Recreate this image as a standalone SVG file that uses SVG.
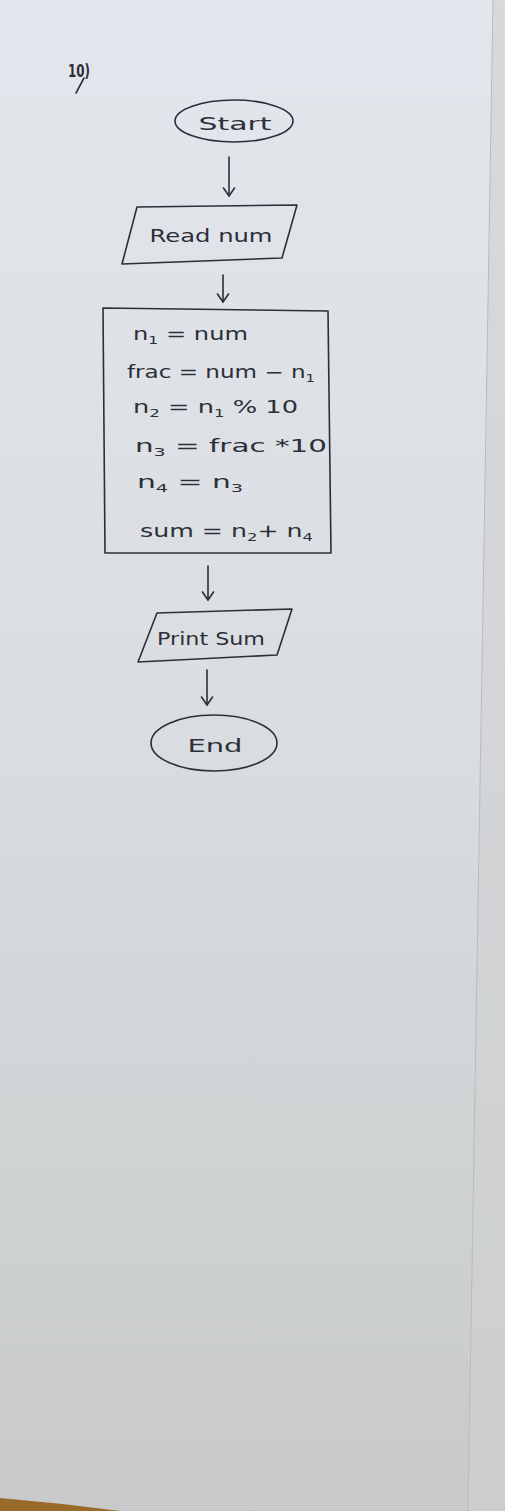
<svg xmlns="http://www.w3.org/2000/svg" width="505" height="1511" viewBox="0 0 505 1511">
<defs>
<linearGradient id="paper" x1="0" y1="0" x2="0" y2="1">
<stop offset="0" stop-color="#e3e6ec"/>
<stop offset="0.5" stop-color="#d9dce0"/>
<stop offset="1" stop-color="#c8cac9"/>
</linearGradient>
<marker id="arr" markerWidth="14" markerHeight="14" refX="11" refY="7" orient="auto" markerUnits="userSpaceOnUse" viewBox="0 0 14 14">
<polyline points="3,1.5 11,7 3,12.5" fill="none" stroke="#2c2f38" stroke-width="1.6" stroke-linecap="round" stroke-linejoin="round"/>
</marker>
<style>
.ink{fill:none;stroke:#2c2f38;stroke-width:1.6;stroke-linecap:round;stroke-linejoin:round}
.t{font-family:"DejaVu Sans","Liberation Sans",sans-serif;fill:#2c2f38;font-size:17px}
.s{font-size:11px}
</style>
</defs>
<rect width="505" height="1511" fill="url(#paper)"/>
<path d="M493 0 L468 1511 L505 1511 L505 0 Z" fill="#cfd1d2" opacity="0.6"/>
<path d="M493 0 L468 1511" stroke="#b9bbbd" stroke-width="1"/>
<path d="M0 1498 Q60 1503 120 1511 L0 1511 Z" fill="#9a6a2a"/>
<g id="label">
<text class="t" x="68" y="77" font-size="18" font-weight="bold" textLength="22" lengthAdjust="spacingAndGlyphs">10)</text>
<path class="ink" d="M84 78 L76 93"/>
</g>
<g id="start">
<ellipse class="ink" cx="234" cy="121" rx="59" ry="21"/>
<text class="t" x="235" y="130" text-anchor="middle" font-size="20" textLength="73" lengthAdjust="spacingAndGlyphs">Start</text>
</g>
<g id="read">
<path class="ink" d="M137 207 L297 205 L282 258 L122 264 Z"/>
<text class="t" x="211" y="242" text-anchor="middle" font-size="19" textLength="123" lengthAdjust="spacingAndGlyphs">Read num</text>
</g>
<g id="process">
<path class="ink" d="M103 308 L328 311 L331 553 L105 553 Z"/>
<text class="t" x="133" y="340" textLength="115" lengthAdjust="spacingAndGlyphs">n<tspan class="s" dy="4">1</tspan><tspan dy="-4"> = num</tspan></text>
<text class="t" x="127" y="378" textLength="188" lengthAdjust="spacingAndGlyphs">frac = num − n<tspan class="s" dy="4">1</tspan></text>
<text class="t" x="133" y="413" textLength="165" lengthAdjust="spacingAndGlyphs">n<tspan class="s" dy="4">2</tspan><tspan dy="-4"> = n</tspan><tspan class="s" dy="4">1</tspan><tspan dy="-4"> % 10</tspan></text>
<text class="t" x="135" y="452" textLength="192" lengthAdjust="spacingAndGlyphs">n<tspan class="s" dy="4">3</tspan><tspan dy="-4"> =  frac *10</tspan></text>
<text class="t" x="137" y="488" textLength="106" lengthAdjust="spacingAndGlyphs">n<tspan class="s" dy="4">4</tspan><tspan dy="-4"> = n</tspan><tspan class="s" dy="4">3</tspan></text>
<text class="t" x="140" y="537" textLength="173" lengthAdjust="spacingAndGlyphs">sum = n<tspan class="s" dy="4">2</tspan><tspan dy="-4">+ n</tspan><tspan class="s" dy="4">4</tspan></text>
</g>
<g id="print">
<path class="ink" d="M157 613 L292 609 L277 655 L138 662 Z"/>
<text class="t" x="211" y="645" text-anchor="middle" font-size="17" textLength="108" lengthAdjust="spacingAndGlyphs">Print Sum</text>
</g>
<g id="end">
<ellipse class="ink" cx="214" cy="743" rx="63" ry="28"/>
<text class="t" x="215" y="752" text-anchor="middle" font-size="19" textLength="55" lengthAdjust="spacingAndGlyphs">End</text>
</g>
<g id="connectors">
<line class="ink" x1="229" y1="157" x2="229" y2="196" marker-end="url(#arr)"/>
<line class="ink" x1="223" y1="275" x2="223" y2="302" marker-end="url(#arr)"/>
<line class="ink" x1="208" y1="566" x2="208" y2="600" marker-end="url(#arr)"/>
<line class="ink" x1="207" y1="670" x2="207" y2="705" marker-end="url(#arr)"/>
</g>
</svg>
